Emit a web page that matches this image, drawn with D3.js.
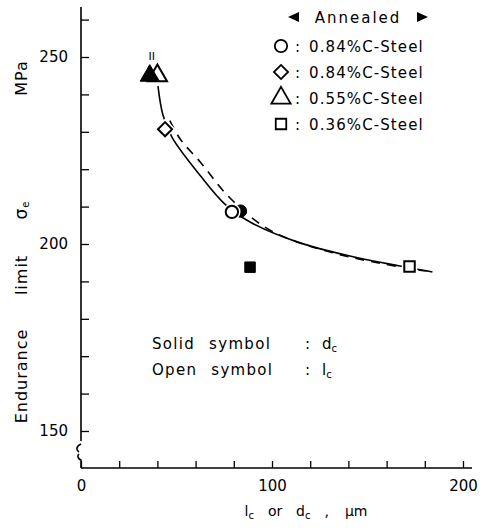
<!DOCTYPE html>
<html><head><meta charset="utf-8">
<script src="https://cdn.jsdelivr.net/npm/d3@7"></script>
<style>
body{margin:0;background:#fff;}
svg{display:block;}
text{font-family:"DejaVu Sans",sans-serif;fill:#000;}
</style></head>
<body><div id="chart"></div>
<script>
// ---- data ----
const xTicks = [0,20,40,60,80,100,120,140,160,180,200];
const xTickLabels = [0,100,200];
const yTicks = [150,160,170,180,190,200,210,220,230,240,250,260];
const yTickLabels = [150,200,250];

// open symbols: l_c ; solid symbols: d_c
const openShapes = ["triangle","diamond","circle","square"];
const openX = [40, 44, 79, 172];
const openY = [245, 230.7, 208.6, 194];

const solidShapes = ["circle","triangle","square"];
const solidX = [83.5, 36, 88.5];
const solidY = [208.8, 245, 193.8];

// fitted curves (as drawn)
const solidCurveX = [40.3, 42.9, 47.6, 62.3, 75.9, 88.5, 114.7, 140.8, 167, 184];
const solidCurveY = [242.2, 234.5, 228.6, 218.4, 210.4, 205.9, 200.3, 196.8, 194.1, 192.5];
const dashCurveX = [46.5, 52, 62.3, 78, 99, 130, 177.5, 183];
const dashCurveY = [233, 228, 222, 212.3, 203.7, 197.9, 193, 192.8];

const legendLabels = ["0.84%C-Steel","0.84%C-Steel","0.55%C-Steel","0.36%C-Steel"];
const legendShapes = ["circle","diamond","triangle","square"];

// ---- drawing ----
const W = 485, H = 530;
const svg = d3.select("#chart").append("svg").attr("width",W).attr("height",H);
const x = d3.scaleLinear().domain([0,200]).range([81,463]);
const y = d3.scaleLinear().domain([150,250]).range([431,57]);
const axisY0 = 468;

const sym = {
  circle: d3.symbol().type(d3.symbolCircle).size(120),
  diamond: d3.symbol().type(d3.symbolSquare).size(100),
  triangle: d3.symbol().type(d3.symbolTriangle).size(160),
  square: d3.symbol().type(d3.symbolSquare).size(110)
};
const rot = s => s === "diamond" ? " rotate(45)" : "";

// y axis
const yAxis = d3.axisLeft(y).tickValues(yTicks).tickSizeInner(-8).tickSizeOuter(0).tickPadding(13)
  .tickFormat(d => yTickLabels.includes(d) ? d : "");
const gy = svg.append("g").attr("transform","translate(81,0)").call(yAxis);
gy.select(".domain").remove();
gy.selectAll("line").attr("stroke","#000").attr("stroke-width",1.3);
gy.selectAll("text").style("font-size","15px").attr("font-family","DejaVu Sans");
// y axis line with break
svg.append("path").attr("d",`M81,7 L81,441 M81,444 C76,446 76,450 79,452 M79,454 C77,456 78,459 81,460 L81,${axisY0}`)
  .attr("fill","none").attr("stroke","#000").attr("stroke-width",1.6);

// x axis
const xAxis = d3.axisBottom(x).tickValues(xTicks).tickSizeInner(-7).tickSizeOuter(0).tickPadding(12)
  .tickFormat(d => xTickLabels.includes(d) ? d : "");
const gx = svg.append("g").attr("transform",`translate(0,${axisY0})`).call(xAxis);
gx.select(".domain").remove();
gx.selectAll("line").attr("stroke","#000").attr("stroke-width",1.3);
gx.selectAll("text").style("font-size","15px").attr("font-family","DejaVu Sans");
svg.append("line").attr("x1",81).attr("x2",472).attr("y1",axisY0).attr("y2",axisY0)
  .attr("stroke","#000").attr("stroke-width",1.6);

// curves
const line = d3.line().x(d=>x(d[0])).y(d=>y(d[1])).curve(d3.curveCatmullRom);
svg.append("path").datum(solidCurveX.map((v,i)=>[v,solidCurveY[i]]))
  .attr("d",line).attr("fill","none").attr("stroke","#000").attr("stroke-width",1.6);
svg.append("path").datum(dashCurveX.map((v,i)=>[v,dashCurveY[i]]))
  .attr("d",line).attr("fill","none").attr("stroke","#000").attr("stroke-width",1.6)
  .attr("stroke-dasharray","9,7");

// solid circle & square first, then open symbols, then solid triangle on top
function drawSolid(i){
  svg.append("path").attr("transform",`translate(${x(solidX[i])},${y(solidY[i])})`)
    .attr("d",sym[solidShapes[i]]()).attr("fill","#000").attr("stroke","#000").attr("stroke-width",1);
}
drawSolid(0); drawSolid(2);
openX.forEach((d,i)=>{
  const g = svg.append("g").attr("transform",`translate(${x(d)},${y(openY[i])})${rot(openShapes[i])}`);
  g.append("path").attr("d",sym[openShapes[i]]()).attr("fill","#fff").attr("stroke","#fff").attr("stroke-width",5);
  g.append("path").attr("d",sym[openShapes[i]]()).attr("fill","#fff").attr("stroke","#000").attr("stroke-width",2);
});
drawSolid(1);
// small "II" mark above triangles
svg.append("text").attr("x",x(37)).attr("y",y(250)+3).attr("text-anchor","middle")
  .style("font-size","11px").text("II");

// y title pieces
const yt = svg.append("g").style("font-size","16px").style("letter-spacing","1px");
[["Endurance",376],["limit",275],["MPa",78]].forEach(([t,cy])=>{
  yt.append("text").attr("transform",`translate(27,${cy}) rotate(-90)`).attr("text-anchor","middle").text(t);
});
const sg = yt.append("text").attr("transform",`translate(27,210) rotate(-90)`).attr("text-anchor","middle");
sg.append("tspan").style("font-size","17px").text("σ");
sg.append("tspan").attr("baseline-shift","-20%").style("font-size","10px").text("e");

// x title
const xt = svg.append("text").attr("x",306).attr("y",516).attr("text-anchor","middle").style("font-size","14px");
xt.append("tspan").text("l");
xt.append("tspan").attr("baseline-shift","-25%").style("font-size","10px").text("c");
xt.append("tspan").attr("dx",14).text("or");
xt.append("tspan").attr("dx",14).text("d");
xt.append("tspan").attr("baseline-shift","-25%").style("font-size","10px").text("c");
xt.append("tspan").attr("dx",14).text(",");
xt.append("tspan").attr("dx",16).text("µm");

// annotation
const ann = [["Solid symbol",":","d"],["Open symbol",":","l"]];
ann.forEach((a,i)=>{
  const yy = 349 + i*26;
  svg.append("text").attr("x",152).attr("y",yy).style("font-size","15px").style("letter-spacing","1.3px")
    .style("word-spacing","8px").text(a[0]);
  svg.append("text").attr("x",305).attr("y",yy).style("font-size","15px").text(a[1]);
  const t = svg.append("text").attr("x",322).attr("y",yy).style("font-size","15px");
  t.append("tspan").text(a[2]);
  t.append("tspan").attr("baseline-shift","-25%").style("font-size","10px").text("c");
});

// legend
svg.append("text").attr("x",358).attr("y",23).attr("text-anchor","middle").style("font-size","15px")
  .style("letter-spacing","2px").text("Annealed");
svg.append("path").attr("d","M288,17 L299,12 L299,22 Z").attr("fill","#000");
svg.append("path").attr("d","M428,17 L417,12 L417,22 Z").attr("fill","#000");
const legY = [46, 72, 98, 124];
legendLabels.forEach((lab,i)=>{
  svg.append("path").attr("transform",`translate(281,${legY[i]})${rot(legendShapes[i])}`).attr("d",sym[legendShapes[i]]())
    .attr("fill","#fff").attr("stroke","#000").attr("stroke-width",1.8);
  svg.append("text").attr("x",295).attr("y",legY[i]+6).style("font-size","15px").text(":");
  svg.append("text").attr("x",309).attr("y",legY[i]+6).style("font-size","15px").style("letter-spacing","1.1px").text(lab);
});
</script></body></html>
